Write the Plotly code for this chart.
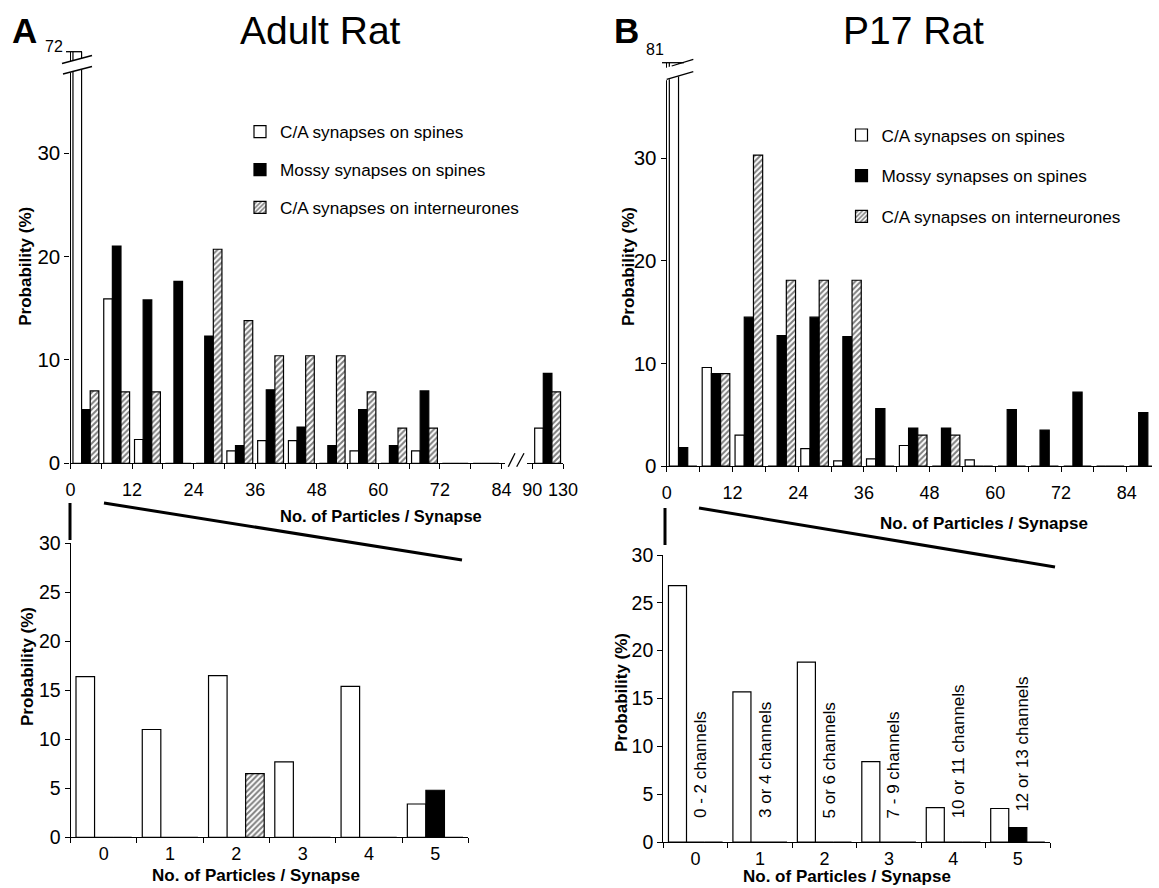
import plotly.graph_objects as go

W, H = 1159, 888


def fx(px):
    return px / W


def fy(py):
    return 1 - py / H


FONT = "Liberation Sans, Arial, Helvetica, sans-serif"

# ---------------- data ----------------
series_names = ["C/A synapses on spines", "Mossy synapses on spines", "C/A synapses on interneurones"]

# Top panels: bins of 6 particles (bin start); last Adult bin is the pooled 90-130 bin
A_bin_starts = [0, 6, 12, 18, 24, 30, 36, 42, 48, 54, 60, 66, 72, 78, 90]
A_ca_spines = [72, 15.9, 2.3, 0, 0, 1.2, 2.2, 2.2, 0, 1.2, 0, 1.2, 0, 0, 3.4]
A_mossy = [5.2, 21.0, 15.8, 17.6, 12.3, 1.7, 7.1, 3.5, 1.7, 5.2, 1.7, 7.0, 0, 0, 8.7]
A_ca_inter = [7.0, 6.9, 6.9, 0, 20.7, 13.8, 10.4, 10.4, 10.4, 6.9, 3.4, 3.4, 0, 0, 6.9]
A_tickvals = [0, 6, 12, 18, 24, 30, 36, 42, 48, 54, 60, 66, 72, 78, 84, 90, 96]
A_ticktext = ["0", "", "12", "", "24", "", "36", "", "48", "", "60", "", "72", "", "84", "90", "130"]

B_bin_starts = [0, 6, 12, 18, 24, 30, 36, 42, 48, 54, 60, 66, 72, 78, 84]
B_ca_spines = [81, 9.6, 3.0, 0, 1.7, 0.5, 0.7, 2.0, 0, 0.6, 0, 0, 0, 0, 0]
B_mossy = [1.8, 9.0, 14.5, 12.7, 14.5, 12.6, 5.6, 3.7, 3.7, 0, 5.5, 3.5, 7.2, 0, 5.2]
B_ca_inter = [0, 9.0, 30.3, 18.1, 18.1, 18.1, 0, 3.0, 3.0, 0, 0, 0, 0, 0, 0]
B_tickvals = [0, 6, 12, 18, 24, 30, 36, 42, 48, 54, 60, 66, 72, 78, 84]
B_ticktext = ["0", "", "12", "", "24", "", "36", "", "48", "", "60", "", "72", "", "84"]

# Bottom panels: 0-5 particles per synapse
bottom_cats = ["0", "1", "2", "3", "4", "5"]
Abot_ca_spines = [16.4, 11.0, 16.5, 7.7, 15.4, 3.4]
Abot_mossy = [0, 0, 0, 0, 0, 4.8]
Abot_ca_inter = [0, 0, 6.5, 0, 0, 0]
Bbot_ca_spines = [26.8, 15.7, 18.8, 8.4, 3.6, 3.5]
Bbot_mossy = [0, 0, 0, 0, 0, 1.5]
Bbot_ca_inter = [0, 0, 0, 0, 0, 0]
channel_labels = ["0 - 2 channels", "3 or 4 channels", "5 or 6 channels",
                  "7 - 9 channels", "10 or 11 channels", "12 or 13 channels"]

# ---------------- styles ----------------
LW = 1.2
styles = [
    dict(color="white", line=dict(color="black", width=LW)),
    dict(color="black", line=dict(color="black", width=LW)),
    dict(color="white", line=dict(color="black", width=LW),
         pattern=dict(shape="/", fgcolor="black", bgcolor="white", size=4, solidity=0.5)),
]

fig = go.Figure()


def centers(starts):
    return [s + 3 for s in starts]


def add_panel(xs, ys_list, xa, ya, legend=None, prefix=""):
    for i, ys in enumerate(ys_list):
        fig.add_trace(go.Bar(
            x=xs, y=ys, name=series_names[i], marker=styles[i],
            xaxis=xa, yaxis=ya,
            showlegend=legend is not None,
            legend=legend if legend else "legend",
            legendgroup=prefix + str(i),
            hoverinfo="x+y+name",
        ))


add_panel(centers(A_bin_starts), [A_ca_spines, A_mossy, A_ca_inter], "x", "y", "legend", "a")
add_panel(centers(B_bin_starts), [B_ca_spines, B_mossy, B_ca_inter], "x2", "y2", "legend2", "b")
add_panel(bottom_cats, [Abot_ca_spines, Abot_mossy, Abot_ca_inter], "x3", "y3")
add_panel(bottom_cats, [Bbot_ca_spines, Bbot_mossy, Bbot_ca_inter], "x4", "y4")

axis_common = dict(showline=True, linecolor="black", linewidth=1.3, showgrid=False,
                   zeroline=False, ticks="outside", ticklen=5, tickwidth=1.2,
                   tickcolor="black", fixedrange=True, automargin=False)

layout_axes = dict(
    xaxis=dict(axis_common, domain=[fx(70.5), fx(563)], range=[0, 96], anchor="y",
               tickmode="array", tickvals=A_tickvals, ticktext=A_ticktext,
               tickfont=dict(size=18), ticklabelstandoff=5),
    yaxis=dict(axis_common, domain=[fy(463.3), fy(51.7)], range=[0, 39.8], anchor="x",
               tickmode="array", tickvals=[0, 10, 20, 30], tickfont=dict(size=20.5)),
    xaxis2=dict(axis_common, domain=[fx(666.7), fx(1152)], range=[0, 88.6], anchor="y2",
                tickmode="array", tickvals=B_tickvals, ticktext=B_ticktext,
                tickfont=dict(size=18), ticklabelstandoff=5),
    yaxis2=dict(axis_common, domain=[fy(466), fy(62.7)], range=[0, 39.3], anchor="x2",
                tickmode="array", tickvals=[0, 10, 20, 30], tickfont=dict(size=20.5)),
    xaxis3=dict(axis_common, domain=[fx(70.7), fx(468.3)], type="category", anchor="y3",
                tickson="boundaries", tickfont=dict(size=18)),
    yaxis3=dict(axis_common, domain=[fy(837.3), fy(543.3)], range=[0, 30], anchor="x3",
                tickmode="array", tickvals=[0, 5, 10, 15, 20, 25, 30], tickfont=dict(size=19.5)),
    xaxis4=dict(axis_common, domain=[fx(663.3), fx(1050)], type="category", anchor="y4",
                tickson="boundaries", tickfont=dict(size=18)),
    yaxis4=dict(axis_common, domain=[fy(842), fy(555)], range=[0, 30], anchor="x4",
                tickmode="array", tickvals=[0, 5, 10, 15, 20, 25, 30], tickfont=dict(size=19.5)),
)

legend_common = dict(bgcolor="rgba(0,0,0,0)", borderwidth=0, font=dict(size=17.2),
                     traceorder="grouped", xanchor="left", yanchor="top",
                     itemclick=False, itemdoubleclick=False)

fig.update_layout(
    width=W, height=H, autosize=False,
    margin=dict(l=0, r=0, t=0, b=0, autoexpand=False),
    paper_bgcolor="white", plot_bgcolor="white",
    font=dict(family=FONT, color="black"),
    barmode="group", bargap=0.16, bargroupgap=0,
    legend=dict(legend_common, x=fx(240), y=fy(114), tracegroupgap=12.5),
    legend2=dict(legend_common, x=fx(841.5), y=fy(117.3), tracegroupgap=15.3),
    **layout_axes,
)

# ---------------- text ----------------
ann = []


def text(px, py, s, size, bold=False, angle=0, xanchor="center", yanchor="middle"):
    ann.append(dict(x=fx(px), y=fy(py), xref="paper", yref="paper", text=f"<b>{s}</b>" if bold else s,
                    showarrow=False, font=dict(size=size, family=FONT, color="black"),
                    textangle=angle, xanchor=xanchor, yanchor=yanchor))


text(24.2, 30.5, "A", 35, bold=True)
text(320, 30.5, "Adult Rat", 39)
text(626.5, 30.5, "B", 35, bold=True)
text(913, 30.5, "P17 Rat", 39)
text(54, 46, "72", 16)
text(655, 49, "81", 16)

text(381, 516, "No. of Particles / Synapse", 16.5, bold=True)
text(984, 523, "No. of Particles / Synapse", 17, bold=True)
text(256, 875, "No. of Particles / Synapse", 17, bold=True)
text(847, 876.5, "No. of Particles / Synapse", 17, bold=True)

text(25.8, 266, "Probability (%)", 17, bold=True, angle=-90)
text(628, 267, "Probability (%)", 17, bold=True, angle=-90)
text(27, 667, "Probability (%)", 17, bold=True, angle=-90)
text(621, 693, "Probability (%)", 17, bold=True, angle=-90)

# channel labels in the P17 expanded panel (placed just above the black bar height)
for i, lab in enumerate(channel_labels):
    ann.append(dict(x=i, y=max(2.3, Bbot_mossy[i] + 1.5), xref="x4", yref="y4", text=lab,
                    showarrow=False, textangle=-90, xanchor="center", yanchor="bottom",
                    xshift=5, font=dict(size=17, family=FONT, color="black")))

fig.update_layout(annotations=ann)

# ---------------- decorations (axis breaks, zoom indicator lines) ----------------
shapes = []


def pline(x0, y0, x1, y1, w=1.3):
    shapes.append(dict(type="line", xref="paper", yref="paper", x0=fx(x0), y0=fy(y0),
                       x1=fx(x1), y1=fy(y1), line=dict(color="black", width=w), layer="above"))


def ppoly(pts):
    path = "M " + " L ".join(f"{fx(a):.5f},{fy(b):.5f}" for a, b in pts) + " Z"
    shapes.append(dict(type="path", xref="paper", yref="paper", path=path,
                       fillcolor="white", line=dict(width=0), layer="above"))


# Adult: y-axis break + cap of tall bar
ppoly([(60, 64.0), (95, 54.7), (95, 66.0), (60, 75.3)])
pline(62, 63.5, 92, 55.5)
pline(63, 74.0, 92, 66.5)
pline(66, 51.7, 82, 51.7)
# Adult: x-axis break
ppoly([(505, 460), (527, 460), (527, 467), (505, 467)])
pline(508.3, 466.7, 515, 453.3)
pline(516.7, 466.7, 524, 453.3)

# P17: y-axis break + cap
ppoly([(664, 68.5), (696, 58.2), (696, 71.0), (664, 81.0)])
pline(671.7, 66, 693.3, 59.3)
pline(666.7, 79.3, 693.3, 71.7)
pline(662, 62.7, 684, 62.7)

# zoom indicator lines
pline(70, 503, 70, 540, w=3)
pline(104, 503, 462, 560, w=3)
pline(665, 508, 665, 545, w=3)
pline(699, 508, 1055, 567, w=3)

fig.update_layout(shapes=shapes)

fig.write_html(
    "out.html",
    config={"displayModeBar": False},
    post_script="document.body.style.margin='0px';document.body.style.padding='0px';",
)
